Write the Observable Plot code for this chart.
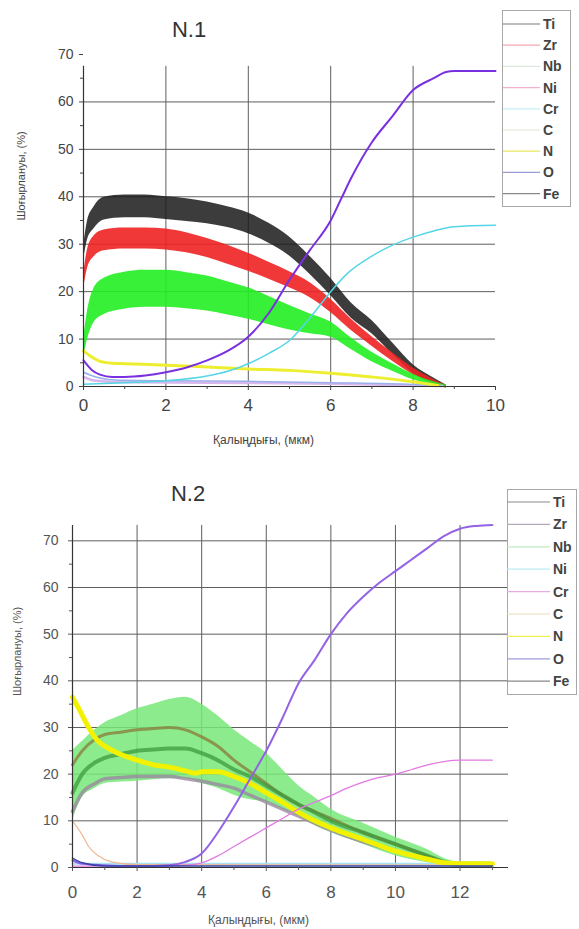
<!DOCTYPE html>
<html>
<head>
<meta charset="utf-8">
<script src="https://cdn.jsdelivr.net/npm/d3@7"></script>
<script src="https://cdn.jsdelivr.net/npm/@observablehq/plot@0.6"></script>
<style>
  html, body { margin:0; padding:0; background:#fff; }
  #root { position:relative; width:579px; height:929px; overflow:hidden; font-family:"Liberation Sans", Arial, sans-serif; }
  .panel { position:absolute; left:0; }
  .title { position:absolute; font-size:22px; color:#333; transform:translate(-50%,-50%); white-space:nowrap; }
  .legendsvg { position:absolute; left:0; top:0; overflow:visible; }
</style>
</head>
<body>
<div id="root"></div>
<script>
// ---------- common text ----------
const elements = ["Ti","Zr","Nb","Ni","Cr","C","N","O","Fe"];
const yLabel = "Шоғырлануы, (%)";
const xLabel = "Қалыңдығы, (мкм)";
const titles = ["N.1","N.2"];

// ---------- Panel N.1 data ----------
const p1xTicks = [0,2,4,6,8,10];
const p1yTicks = [0,10,20,30,40,50,60,70];
const p1Grid = [10,20,30,40,50,60];
const p1xGrid = [2,4,6,8];

const p1X = [0,0.1,0.25,0.5,1,1.5,2,2.5,3,3.5,4,4.5,5,5.5,6,6.5,7,7.5,8,8.5,8.8];
const p1Ti   = [28,33,35.5,37.5,38,38,37.6,37.2,36.6,35.7,34.4,32.3,29.5,25.5,21,16,12.5,8,3.7,1.2,0];
const p1TiHw = [1.5,2,2.3,2.4,2.4,2.4,2.4,2.4,2.3,2.2,2.2,2.1,2,1.9,1.8,1.6,1.4,1.2,0.9,0.6,0.3];
const p1Zr   = [22,27,29.5,30.8,31.2,31.2,31,30.3,29.2,27.8,26.2,24.4,22.5,20.3,17,13,9.5,6.2,3.2,1,0];
const p1ZrHw = [1.5,2,2.2,2.2,2.2,2.2,2.2,2.1,2,2,1.9,1.8,1.7,1.6,1.4,1.2,1,0.9,0.7,0.5,0.3];
const p1Nb   = [8,13,17,19,20.2,20.6,20.6,20.2,19.6,18.6,17.5,16,14.5,13.2,12,9,6.2,4,2,0.6,0];
const p1NbHw = [2,3,3.6,3.8,3.9,3.9,3.9,3.8,3.7,3.5,3.3,3,2.6,2.1,1.6,1.2,1,0.8,0.6,0.4,0.3];

const p1NX = [0,0.2,0.4,0.7,1,2,3,4,5,6,7,8,8.6];
const p1N  = [7.5,6.2,5.3,4.9,4.8,4.5,4.1,3.7,3.4,2.8,2,1,0.2];
const p1OX = [0,0.3,0.6,1,2,4,6,8,8.7];
const p1O  = [3,2,1.5,1.3,1.2,1.1,0.8,0.4,0];
const p1NiX = [0,0.3,1,3,6,8.7];
const p1Ni  = [2,1.2,0.9,0.8,0.6,0.1];
const p1CrX = [0,1,2,3,3.5,4,4.5,5,5.5,6,6.4,7,7.5,8,8.5,9,10];
const p1Cr  = [0.5,0.8,1.2,2.2,3.2,4.8,7,9.7,14.5,20,23.8,27.5,29.8,31.5,32.8,33.7,34];
const p1FeX = [0,0.2,0.4,0.7,1,1.5,2,2.5,3,3.5,4,4.5,5,5.5,6,6.25,6.5,7,7.5,8,8.5,8.8,9,10];
const p1Fe  = [5.5,3.5,2.5,2,2,2.3,3,4,5.5,7.5,10.5,15.5,22.5,28.8,35,39.5,44,51.5,57,62.5,65,66.3,66.5,66.5];

// ---------- Panel N.2 data ----------
const p2xTicks = [0,2,4,6,8,10,12];
const p2yTicks = [0,10,20,30,40,50,60,70];
const p2Grid = [10,20,30,40,50,60,70];
const p2xGrid = [2,4,6,8,10,12];

const p2X = [0,0.3,0.7,1,1.5,2,2.5,3,3.5,4,4.5,5,5.5,6,6.5,7,7.5,8,9,10,11,11.5,12,13];
const p2NbHi = [25,27,29.5,31,32.5,34,35,36,36.5,35,32.5,29.5,27,24.5,21,17.5,15,12.5,9.5,6.5,3.8,2,1.2,1.2];
const p2NbLo = [10,15,17,18,18.3,18.5,18.8,19,19,18,17,15.5,14.5,14,12.5,11,9,7.5,5,2.5,1,0.5,0.3,0.3];
const p2Nb   = [16,20,22.5,23.5,24.3,25,25.3,25.5,25.5,24.5,23,21,19.5,17.5,15.5,13.5,11.8,10,7.5,5,2.5,1.2,0.6,0.6];
const p2Zr   = [22,25,27.5,28.5,29,29.5,29.8,30,29.5,28,26,23,20.5,18,15.5,13.5,12,10.5,7.5,5,2.5,1.2,0.7,0.7];
const p2Ti   = [12,16,18,19,19.3,19.5,19.5,19.5,19,18.5,17.8,17,15.5,14,12.5,11,9.5,8,5.5,3.5,1.8,0.8,0.5,0.5];

const p2NX = [0,0.2,0.5,0.8,1,1.5,2,2.5,3,3.5,3.8,4,4.5,5,5.5,6,6.5,7,7.5,8,9,10,11,11.5,12,13];
const p2N  = [36.5,34,30,27,26,24.2,23,22,21.5,20.7,20.2,20.5,20.5,19.5,18,16,14,11.8,10,8.5,6,3.5,1.8,1,0.8,0.8];
const p2CrX = [0,3,3.5,4,4.5,5,5.5,6,6.5,7,7.5,8,8.5,9,9.5,10,10.5,11,11.5,12,13];
const p2Cr  = [0.3,0.3,0.5,1,2.5,4.5,6.5,8.5,10.5,12.5,14,15.4,17,18.3,19.3,20,21,22,22.7,23,23];
const p2FeX = [0,0.3,1,2,3,3.5,4,4.5,5,5.5,6,6.5,7,7.5,8,8.5,9,9.5,10,10.5,11,11.5,12,12.5,13];
const p2Fe  = [1.5,0.8,0.5,0.3,0.5,1.2,3,7.5,13,19,25,32,39.5,44.5,50,54.5,58,61,63.5,66,68.5,71,72.6,73.2,73.4];
const p2CX = [0,0.3,0.5,0.8,1.2,2,13];
const p2C  = [10,7,4.5,2.5,1.2,0.6,0.5];
const p2OX = [0,0.3,1,13];
const p2O  = [2,1,0.3,0.3];
const p2NiX = [0,13];
const p2Ni  = [0.8,0.8];

// ---------- helpers ----------
const pts = (xs, ys) => xs.map((x, i) => ({x, y: ys[i]}));
const band = (xs, ys, hw) => xs.map((x, i) => ({x, y1: ys[i] - hw[i], y2: ys[i] + hw[i]}));
const band2 = (xs, lo, hi) => xs.map((x, i) => ({x, y1: lo[i], y2: hi[i]}));
const minor = (a, b, step) => d3.range(a, b + 1e-9, step);

const root = document.getElementById("root");
const FONT = "'Liberation Sans', Arial, sans-serif";
const gridColor = "#5e5e5e";

// ---------- Panel 1 ----------
const plot1 = Plot.plot({
  width: 579, height: 465,
  marginLeft: 83, marginRight: 84, marginTop: 54, marginBottom: 79,
  x: {domain: [0, 10], label: null},
  y: {domain: [0, 70], label: null},
  style: {fontFamily: FONT, color: "#444", background: "transparent"},
  marks: [
    Plot.ruleY(p1Grid, {x1: 0, x2: 10, stroke: gridColor, strokeWidth: 1}),
    Plot.ruleX(p1xGrid, {y1: 0, y2: 67.5, stroke: gridColor, strokeWidth: 1}),
    Plot.areaY(band(p1X, p1Ti, p1TiHw), {x: "x", y1: "y1", y2: "y2", fill: "#1a1a1a", fillOpacity: 0.85, curve: "monotone-x"}),
    Plot.areaY(band(p1X, p1Zr, p1ZrHw), {x: "x", y1: "y1", y2: "y2", fill: "#ee2222", fillOpacity: 0.9, curve: "monotone-x"}),
    Plot.areaY(band(p1X, p1Nb, p1NbHw), {x: "x", y1: "y1", y2: "y2", fill: "#22ee22", fillOpacity: 0.9, curve: "monotone-x"}),
    Plot.line(pts(p1NiX, p1Ni), {x: "x", y: "y", stroke: "#d8b8ec", strokeWidth: 2.5, curve: "monotone-x"}),
    Plot.line(pts(p1OX, p1O), {x: "x", y: "y", stroke: "#9ab0ea", strokeWidth: 1.5, curve: "monotone-x"}),
    Plot.line(pts(p1NX, p1N), {x: "x", y: "y", stroke: "#eeee30", strokeWidth: 3, curve: "monotone-x"}),
    Plot.line(pts(p1CrX, p1Cr), {x: "x", y: "y", stroke: "#55d6e6", strokeWidth: 1.5, curve: "monotone-x"}),
    Plot.line(pts(p1FeX, p1Fe), {x: "x", y: "y", stroke: "#7a2fe0", strokeWidth: 2, curve: "monotone-x"}),
    Plot.ruleY([0], {x1: 0, x2: 10, stroke: "#333", strokeWidth: 1.2}),
    Plot.ruleX([0], {y1: 0, y2: 67.5, stroke: "#333", strokeWidth: 1.2}),
    Plot.axisX({ticks: p1xTicks, tickSize: 4, tickPadding: 8, fontSize: 17, label: null}),
    Plot.axisX({ticks: minor(1, 9, 2), tickSize: 3, tickFormat: () => "", label: null}),
    Plot.axisY({ticks: p1yTicks, tickSize: 4, tickPadding: 6, fontSize: 14, label: null}),
    Plot.axisY({ticks: minor(5, 65, 10), tickSize: 3, tickFormat: () => "", label: null}),
    Plot.text([yLabel], {frameAnchor: "left", dx: -62, rotate: -90, fontSize: 11, fill: "#444"}),
    Plot.text([xLabel], {frameAnchor: "bottom", dx: -26, dy: 57, fontSize: 12, fill: "#444"})
  ]
});
plot1.classList.add("panel");
plot1.style.top = "0px";
root.appendChild(plot1);

// ---------- Panel 2 ----------
const plot2 = Plot.plot({
  width: 579, height: 464,
  marginLeft: 72, marginRight: 71, marginTop: 59, marginBottom: 62,
  x: {domain: [0, 13.5], label: null},
  y: {domain: [0, 73.5], label: null},
  style: {fontFamily: FONT, color: "#555", background: "transparent"},
  marks: [
    Plot.ruleY(p2Grid, {x1: 0, x2: 13.5, stroke: gridColor, strokeWidth: 1}),
    Plot.ruleX(p2xGrid, {y1: 0, y2: 73.3, stroke: gridColor, strokeWidth: 1}),
    Plot.areaY(band2(p2X, p2NbLo, p2NbHi), {x: "x", y1: "y1", y2: "y2", fill: "#78e878", fillOpacity: 0.85, curve: "monotone-x"}),
    Plot.line(pts(p2X, p2Zr), {x: "x", y: "y", stroke: "#8a7a3a", strokeOpacity: 0.75, strokeWidth: 3, curve: "monotone-x"}),
    Plot.line(pts(p2X, p2Nb), {x: "x", y: "y", stroke: "#3e9a3e", strokeOpacity: 0.75, strokeWidth: 4, curve: "monotone-x"}),
    Plot.line(pts(p2X, p2Ti), {x: "x", y: "y", stroke: "#9a8aa0", strokeOpacity: 0.8, strokeWidth: 3.5, curve: "monotone-x"}),
    Plot.line(pts(p2NiX, p2Ni), {x: "x", y: "y", stroke: "#a8e2f2", strokeWidth: 2}),
    Plot.line(pts(p2CX, p2C), {x: "x", y: "y", stroke: "#f0b890", strokeWidth: 1.2, curve: "monotone-x"}),
    Plot.line(pts(p2NX, p2N), {x: "x", y: "y", stroke: "#f2f200", strokeWidth: 5, curve: "monotone-x"}),
    Plot.line(pts(p2CrX, p2Cr), {x: "x", y: "y", stroke: "#e27ae2", strokeWidth: 1.3, curve: "monotone-x"}),
    Plot.line(pts(p2FeX, p2Fe), {x: "x", y: "y", stroke: "#9462e4", strokeWidth: 2, curve: "monotone-x"}),
    Plot.line(pts(p2OX, p2O), {x: "x", y: "y", stroke: "#3444a8", strokeWidth: 1.5, curve: "monotone-x"}),
    Plot.ruleY([0], {x1: 0, x2: 13.5, stroke: "#333", strokeWidth: 1.2}),
    Plot.ruleX([0], {y1: 0, y2: 73.3, stroke: "#333", strokeWidth: 1.2}),
    Plot.axisX({ticks: p2xTicks, tickSize: 4, tickPadding: 14, fontSize: 17, label: null}),
    Plot.axisX({ticks: minor(1, 13, 2), tickSize: 3, tickFormat: () => "", label: null}),
    Plot.axisY({ticks: p2yTicks, tickSize: 4, tickPadding: 10, fontSize: 14, label: null}),
    Plot.axisY({ticks: minor(5, 65, 10), tickSize: 3, tickFormat: () => "", label: null}),
    Plot.text([yLabel], {frameAnchor: "left", dx: -55, rotate: -90, fontSize: 11, fill: "#555"}),
    Plot.text([xLabel], {frameAnchor: "bottom", dx: -32, dy: 56, fontSize: 12, fill: "#555"})
  ]
});
plot2.classList.add("panel");
plot2.style.top = "465px";
root.appendChild(plot2);

// ---------- titles ----------
function addTitle(text, x, y) {
  const d = document.createElement("div");
  d.className = "title";
  d.textContent = text;
  d.style.left = x + "px";
  d.style.top = y + "px";
  root.appendChild(d);
}
addTitle(titles[0], 189, 30);
addTitle(titles[1], 188, 494);

// ---------- legends (plain SVG overlay) ----------
const leg1Colors = ["#7a7a7a","#f4a8b2","#dde8dd","#f2b2cf","#c6eff8","#e6e6d2","#e8e860","#9a9ad8","#8a8a8a"];
const leg2Colors = ["#8a8a8a","#b2aab8","#bfeabf","#bcebf4","#e8aae4","#f0dcbc","#f0f050","#9c9cd8","#8a8a8a"];

const lsvg = d3.select(root).append("svg")
  .attr("class", "legendsvg")
  .attr("width", 579).attr("height", 929)
  .style("font-family", FONT);

function addLegend(colors, box, rowTop, rowStep, lineX0, lineX1, textX) {
  const g = lsvg.append("g");
  g.append("rect")
    .attr("x", box[0] + 0.5).attr("y", box[1] + 0.5)
    .attr("width", box[2]).attr("height", box[3])
    .attr("fill", "#fff").attr("stroke", "#a8a8a8").attr("stroke-width", 1);
  const rows = g.selectAll("g.row").data(elements).join("g")
    .attr("transform", (d, i) => `translate(0,${rowTop + i * rowStep})`);
  rows.append("line")
    .attr("x1", lineX0).attr("x2", lineX1)
    .attr("stroke", (d, i) => colors[i]).attr("stroke-width", 1.2);
  rows.append("text")
    .attr("x", textX).attr("dy", "0.36em")
    .attr("font-size", 14).attr("font-weight", "bold").attr("fill", "#444")
    .text(d => d);
}
addLegend(leg1Colors, [502, 10, 68, 196], 24, 21.2, 503, 540, 543);
addLegend(leg2Colors, [507, 489, 69, 205], 502, 22.4, 507, 550, 553);
</script>
</body>
</html>
